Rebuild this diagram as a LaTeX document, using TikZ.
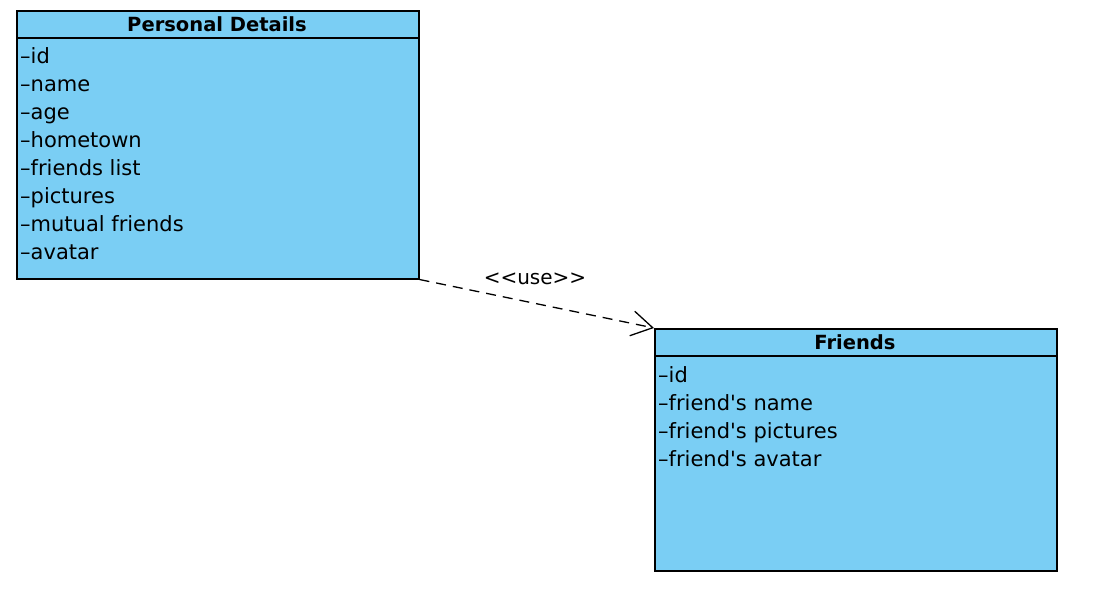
\documentclass[tikz,border=0pt]{standalone}
\usepackage{fontspec}
\setmainfont{DejaVu Sans}
\usetikzlibrary{arrows.meta}
\definecolor{classblue}{RGB}{122,206,244}
\newcommand{\sq}{\textquotesingle}
\tikzset{
  classbox/.style={draw=black, fill=classblue, line width=1.5pt, rectangle, inner sep=0pt, anchor=north west},
  divider/.style={draw=black, line width=1.5pt},
  classtitle/.style={font=\fontsize{19.5}{22}\selectfont\bfseries, anchor=base, inner sep=0pt},
  attr/.style={font=\fontsize{21}{24}\selectfont, anchor=base west, inner sep=0pt},
  uselabel/.style={font=\fontsize{20}{24}\selectfont, anchor=base, inner sep=0pt},
  dep/.style={draw=black, line width=1.3pt, dash pattern=on 10pt off 7pt, -{Straight Barb[length=21pt,width=25pt,line width=1.3pt]}}
}
\begin{document}
\begin{tikzpicture}[x=1pt,y=-1pt]
\useasboundingbox (0,0) rectangle (1110,600);
% Personal Details
\node[classbox, minimum width=402pt, minimum height=268pt] (pd) at (16,10) {};
\coordinate (pdl) at (16,38);
\coordinate (pdr) at (418,38);
\draw[divider] (pdl) -- (pdr);
\node[classtitle] (pdt) at (217,31) {Personal Details};
\node[attr] (pd1) at (20,63) {–id};
\node[attr] (pd2) at (20,91) {–name};
\node[attr] (pd3) at (20,119) {–age};
\node[attr] (pd4) at (20,147) {–hometown};
\node[attr] (pd5) at (20,175) {–friends list};
\node[attr] (pd6) at (20,203) {–pictures};
\node[attr] (pd7) at (20,231) {–mutual friends};
\node[attr] (pd8) at (20,259) {–avatar};
% Friends
\node[classbox, minimum width=402pt, minimum height=242pt] (fr) at (654,328) {};
\coordinate (frl) at (654,356);
\coordinate (frr) at (1056,356);
\draw[divider] (frl) -- (frr);
\node[classtitle] (frt) at (855,349) {Friends};
\node[attr] (fr1) at (658,382) {–id};
\node[attr] (fr2) at (658,410) {–friend\sq s name};
\node[attr] (fr3) at (658,438) {–friend\sq s pictures};
\node[attr] (fr4) at (658,466) {–friend\sq s avatar};
% dependency
\draw[dep] (pd.south east) -- (fr.north west);
\node[uselabel] (use) at (535,284) {{<}{<}use{>}{>}};
\end{tikzpicture}
\end{document}
